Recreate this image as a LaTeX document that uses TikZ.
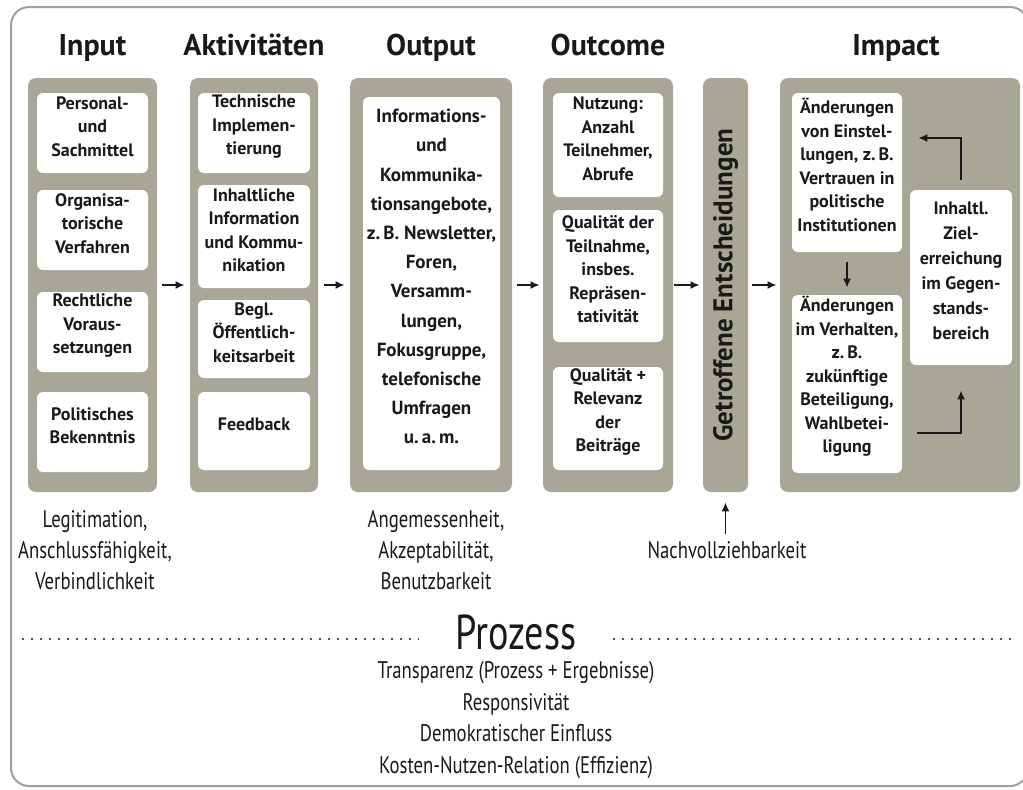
\documentclass[tikz,border=0pt]{standalone}
\usepackage{fontspec}
\setmainfont{PT Sans}
\newfontfamily\condfont[FakeStretch=0.78]{PT Sans}
\usetikzlibrary{arrows.meta,fit,positioning}
\definecolor{panelgrey}{RGB}{168,166,150}
\definecolor{framegrey}{RGB}{160,160,152}
\definecolor{ink}{RGB}{25,25,25}
\begin{document}
\begin{tikzpicture}[x=0.5pt,y=-0.5pt,
  panel/.style={fill=panelgrey, rounded corners=4pt, inner sep=0pt},
  box/.style={fill=white, rounded corners=3pt, inner sep=0pt, align=center, text=ink,
    font=\bfseries\fontsize{9}{11.75}\selectfont},
  head/.style={anchor=base, text=ink, font=\bfseries\fontsize{15}{18}\selectfont},
  note/.style={align=center, text=ink, font=\condfont\fontsize{12}{15.5}\selectfont},
  arr/.style={-{Latex[length=4.5pt,width=4pt]}, line width=0.95pt, ink},
  dots/.style={framegrey!50!black, line width=1.2pt, dash pattern=on 1.2pt off 3.3pt}]
\useasboundingbox (0,0) rectangle (1023,789);
\draw[framegrey, line width=1pt, rounded corners=9pt] (11,7) rectangle (1028,786);

\node[panel, fit={(28,78) (157,492)}] (pin) {};
\node[panel, fit={(190,78) (318,492)}] (pakt) {};
\node[panel, fit={(350,78) (512,492)}] (pout) {};
\node[panel, fit={(543,78) (673,492)}] (pome) {};
\node[panel, fit={(703,78) (748,492)}] (pent) {};
\node[panel, fit={(780,78) (1020,492)}] (pimp) {};

\node[head] at ([yshift=11pt]pin.north) {Input};
\node[head] at ([yshift=11pt]pakt.north) {Aktivitäten};
\node[head] at ([yshift=11pt]pout.north) {Output};
\node[head] at ([yshift=11pt]pome.north) {Outcome};
\node[head] at ([xshift=-2pt,yshift=11pt]pimp.north) {Impact};

\node[box, fit={(37,93) (148,173)}] (in1) {Personal-\\und\\Sachmittel};
\node[box, fit={(37,190) (148,270)}] (in2) {Organisa-\\torische\\Verfahren};
\node[box, fit={(37,292) (148,372)}] (in3) {Rechtliche\\Voraus-\\setzungen};
\node[box, fit={(37,392) (148,472)}] (in4) {Politisches\\Bekenntnis};

\node[box, fit={(198,93) (310,173)}] (akt1) {Technische\\Implemen-\\tierung};
\node[box, fit={(198,185) (310,288)}] (akt2) {Inhaltliche\\Information\\und Kommu-\\nikation};
\node[box, fit={(198,300) (310,378)}] (akt3) {Begl.\\Öffentlich-\\keitsarbeit};
\node[box, fit={(198,392) (310,470)}] (akt4) {Feedback};

\node[box, fit={(363,97) (500,470)}, font=\bfseries\fontsize{9.5}{14.6}\selectfont] (out1)
  {Informations-\\und\\Kommunika-\\tionsangebote,\\z.\,B. Newsletter,\\Foren,\\Versamm-\\lungen,\\Fokusgruppe,\\telefonische\\Umfragen\\u.\,a.\,m.};

\node[box, fit={(553,93) (663,197)}] (ome1) {Nutzung:\\Anzahl\\Teilnehmer,\\Abrufe};
\node[box, fit={(553,210) (663,342)}] (ome2) {Qualität der\\Teilnahme,\\insbes.\\Repräsen-\\tativität};
\node[box, fit={(553,367) (663,470)}] (ome3) {Qualität +\\Relevanz\\der\\Beiträge};

\node[rotate=90, text=ink, font=\bfseries\fontsize{13.5}{16}\selectfont] at (pent) {Getroffene Entscheidungen};

\node[box, fit={(792,93) (902,252)}] (imp1) {Änderungen\\von Einstel-\\lungen, z.\,B.\\Vertrauen in\\politische\\Institutionen};
\node[box, fit={(792,295) (902,473)}] (imp2) {Änderungen\\im Verhalten,\\z.\,B.\\zukünftige\\Beteiligung,\\Wahlbetei-\\ligung};
\node[box, fit={(910,190) (1012,365)}, font=\bfseries\fontsize{9}{12.5}\selectfont] (ziel) {Inhaltl.\\Ziel-\\erreichung\\im Gegen-\\stands-\\bereich};

\draw[arr, shorten <=2.5pt, shorten >=2.5pt] (pin) -- (pakt);
\draw[arr, shorten <=3pt, shorten >=2.5pt] (pakt) -- (pout);
\draw[arr, shorten <=2.5pt, shorten >=1.5pt] (pout) -- (pome);
\draw[arr, shorten <=0.5pt, shorten >=1.5pt] (pome) -- (pent);
\draw[arr, shorten <=2pt, shorten >=1.5pt] (pent) -- (pimp);
\draw[arr, shorten <=5pt, shorten >=3.5pt] (imp1) -- (imp2);
\draw[arr, shorten <=7.5pt, shorten >=12.5pt] (imp2.east |- 0,433) -| (ziel.south);
\draw[arr, shorten <=5pt, shorten >=8pt] (ziel.north) |- (imp1.east |- 0,138);

\node[note] (crit1) at (95,550) {Legitimation,\\Anschlussfähigkeit,\\Verbindlichkeit};
\node[note] (crit2) at (436,550) {Angemessenheit,\\Akzeptabilität,\\Benutzbarkeit};
\node[note] (crit3) at (727,550) {Nachvollziehbarkeit};
\draw[arr, shorten <=0pt, shorten >=5pt] (crit3.north -| pent) -- (pent);

\node[inner sep=0pt, text=ink, font=\condfont\fontsize{24.5}{28}\selectfont] (prozess) at (516,632) {Prozess};
\coordinate (dl) at (22,639);
\coordinate (dr) at (1011,639);
\draw[dots] (dl) -- ([xshift=-18pt]prozess.west |- dl);
\draw[dots] ([xshift=18pt]prozess.east |- dr) -- (dr);
\node[note, font=\condfont\fontsize{12}{15.9}\selectfont] (pcrit) at (516,720)
  {Transparenz (Prozess + Ergebnisse)\\Responsivität\\Demokratischer Einfluss\\Kosten-Nutzen-Relation (Effizienz)};
\end{tikzpicture}
\end{document}
